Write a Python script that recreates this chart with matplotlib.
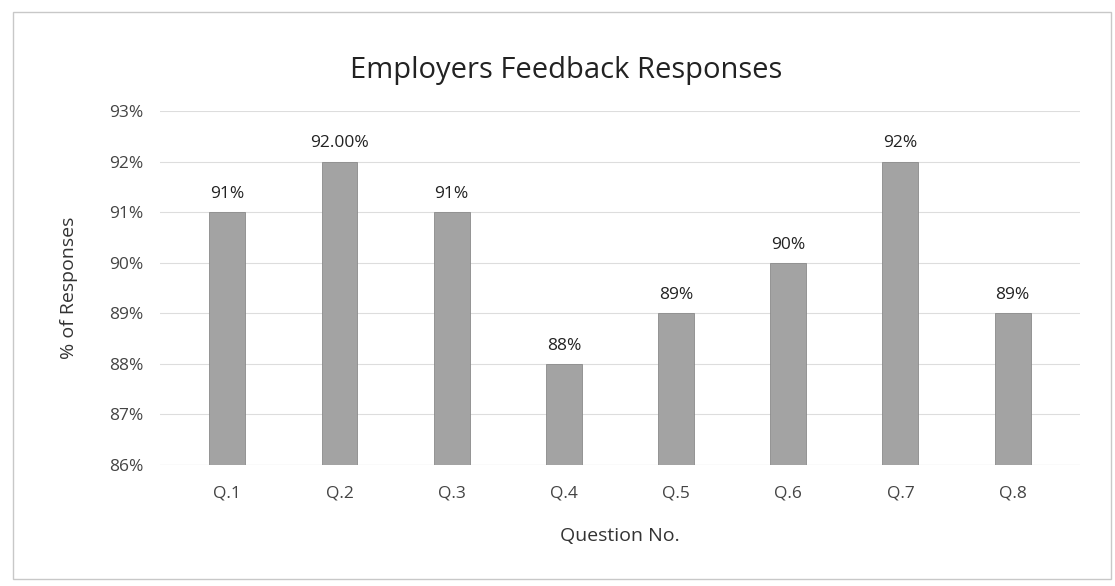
import matplotlib
matplotlib.use("Agg")
import matplotlib.pyplot as plt
from matplotlib.patches import Rectangle

categories = ["Q.1", "Q.2", "Q.3", "Q.4", "Q.5", "Q.6", "Q.7", "Q.8"]
values = [91, 92, 91, 88, 89, 90, 92, 89]
value_labels = ["91%", "92.00%", "91%", "88%", "89%", "90%", "92%", "89%"]
yticks = [86, 87, 88, 89, 90, 91, 92, 93]
ytick_labels = ["86%", "87%", "88%", "89%", "90%", "91%", "92%", "93%"]

plt.rcParams['font.family'] = ['Open Sans', 'DejaVu Sans']
fig = plt.figure(figsize=(11.15, 5.86), dpi=100)
fig.patch.set_facecolor("white")
fig.patches.append(Rectangle((0.012, 0.012), 0.984, 0.968, transform=fig.transFigure,
                             fill=False, edgecolor="#c8c8c8", linewidth=1.0))
ax = fig.add_axes([0.1435, 0.2065, 0.825, 0.604])
x = list(range(len(categories)))
ax.bar(x, [v - 86 for v in values], bottom=86, width=0.32, color="#a3a3a3",
       edgecolor="#8a8a8a", linewidth=0.6, zorder=3)
for xi, v, lab in zip(x, values, value_labels):
    ax.text(xi, v + 0.2, lab, ha="center", va="bottom", fontsize=12.5, color="#222222")
ax.set_ylim(86, 93)
ax.set_xlim(-0.6, len(categories) - 0.4)
ax.set_yticks(yticks)
ax.set_yticklabels(ytick_labels, fontsize=12.5, color="#444444")
ax.set_xticks(x)
ax.set_xticklabels(categories, fontsize=12.5, color="#444444")
ax.tick_params(axis="y", length=0, pad=12)
ax.tick_params(axis="x", length=0, pad=15)
ax.grid(axis="y", color="#dddddd", linewidth=0.8, zorder=0)
for s in ax.spines.values():
    s.set_visible(False)
ax.axhline(86, color="#cccccc", linewidth=0.8, zorder=1)
ax.set_ylabel("% of Responses", fontsize=14, color="#333333", labelpad=22)
ax.set_xlabel("Question No.", fontsize=14, color="#333333", labelpad=18)
fig.text(0.508, 0.88, "Employers Feedback Responses", ha="center", va="center",
         fontsize=21, color="#222222")
fig.savefig("out.png", dpi=100)
